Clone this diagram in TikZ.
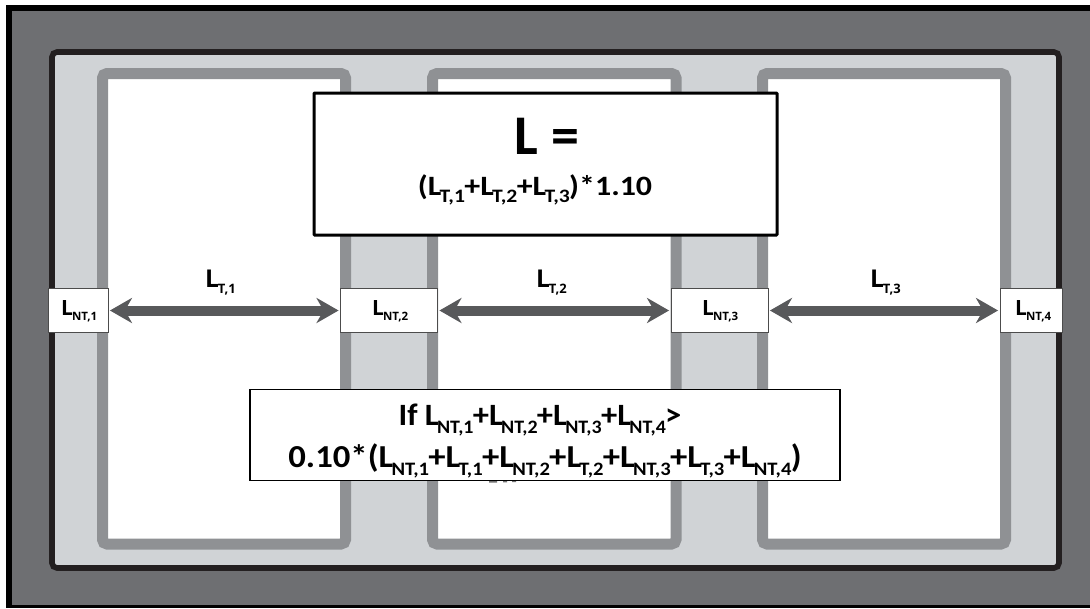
\documentclass[tikz,border=0pt]{standalone}
\usepackage{fontspec}
\usetikzlibrary{arrows.meta}
\setmainfont{Carlito}
\newfontfamily\labfont{Open Sans}
\definecolor{bggray}{HTML}{6E6F72}
\definecolor{boardfill}{HTML}{D0D3D6}
\definecolor{boardline}{HTML}{231F20}
\definecolor{roomline}{HTML}{8F9194}
\definecolor{arrowgray}{HTML}{58595B}
\newcommand\subL[2]{L\kern-.05em\raisebox{-.27em}{\fontsize{#1}{#1}\selectfont #2}\kern-.02em}
\newcommand\subS[1]{\subL{19}{#1}}
\newcommand\subC[1]{\subL{19}{#1}}
\newcommand\subT[1]{\subL{13}{#1}}
\newcommand\subN[1]{\subL{11.5}{#1}}
\tikzset{
  x=1pt,y=-1pt,
  room/.style={draw=roomline,line width=11pt,fill=white,rounded corners=4.5pt},
  ntbox/.style={draw=black!70,line width=.9pt,fill=white,inner sep=0pt,minimum height=44pt},
  nttext/.style={inner sep=0pt,anchor=base west,font=\labfont\bfseries\fontsize{21}{24}\selectfont},
  tlabel/.style={inner sep=0pt,anchor=base west,font=\labfont\bfseries\fontsize{24.5}{28}\selectfont},
  dim/.style={draw=arrowgray,line width=10pt,
     {Stealth[length=22pt,width=25pt,inset=7pt]}-{Stealth[length=22pt,width=25pt,inset=7pt]},
     shorten <=1.5pt,shorten >=1.5pt},
  topbox/.style={draw=black,line width=3pt,fill=white,rounded corners=.8pt,inner sep=0pt},
  ifbox/.style={draw=black,line width=1.3pt,fill=white,inner sep=0pt},
  txt/.style={inner sep=0pt,anchor=base,font=\bfseries}
}
\begin{document}
\begin{tikzpicture}
\useasboundingbox (0,0) rectangle (1090,608);
\fill[white] (0,0) rectangle (1090,608);
\fill[black] (6,5) rectangle (1090,608);
\fill[bggray] (12,11) rectangle (1090,604.5);
\draw[draw=boardline,fill=boardfill,line width=5.6pt,rounded corners=5pt] (52,52) rectangle (1059,568);
\draw[room] (102.5,73.5) rectangle (345.5,544);
\draw[room] (432.5,73.5) rectangle (676,544);
\draw[room] (762.5,73.5) rectangle (1005.5,544);
% traces left visible just under the lower box
\fill[black!55] (489,481) rectangle (497,482.6) (503,481) rectangle (507,482.4) (512,481) rectangle (516,482.2);

\node[ntbox,minimum width=60pt] (nt1) at (78,310.5) {};
\node[ntbox,minimum width=97pt] (nt2) at (389,310.5) {};
\node[ntbox,minimum width=97pt] (nt3) at (719.5,310.5) {};
\node[ntbox,minimum width=62pt] (nt4) at (1031,310.5) {};
\node[nttext] (tnt1) at (61,315) {\subN{NT,1}};
\node[nttext] (tnt2) at (372,315) {\subN{NT,2}};
\node[nttext] (tnt3) at (702,315) {\subN{NT,3}};
\node[nttext] (tnt4) at (1015,315) {\subN{NT,4}};

\draw[dim] (nt1) -- (nt2);
\draw[dim] (nt2) -- (nt3);
\draw[dim] (nt3) -- (nt4);

\node[tlabel] (lt1) at (205,287) {\subT{T,1}};
\node[tlabel] (lt2) at (536,287) {\subT{T,2}};
\node[tlabel] (lt3) at (870,287) {\subT{T,3}};

\node[topbox,minimum width=463pt,minimum height=142pt] (top) at (545.5,164) {};
\node[txt,font=\bfseries\fontsize{56}{60}\selectfont] (leq) at (547,154) {L =};
\node[txt,font=\bfseries\fontsize{28}{30}\selectfont] (lsum) at (535,195) {\scalebox{1.14}[1]{(\subL{19}{T,1}+\subL{19}{T,2}+\subL{19}{T,3})*1.10}};

\node[ifbox,minimum width=590pt,minimum height=91pt] (ifb) at (545,435) {};
\node[txt,font=\bfseries\fontsize{31}{32}\selectfont] (if1) at (540,425) {\scalebox{1.05}[1]{If \subS{NT,1}+\subS{NT,2}+\subS{NT,3}+\subS{NT,4}>}};
\node[txt,font=\bfseries\fontsize{32}{32}\selectfont] (if2) at (545,467) {\scalebox{1.085}[1]{0.10*(\subC{NT,1}+\subC{T,1}+\subC{NT,2}+\subC{T,2}+\subC{NT,3}+\subC{T,3}+\subC{NT,4})}};
\end{tikzpicture}
\end{document}
